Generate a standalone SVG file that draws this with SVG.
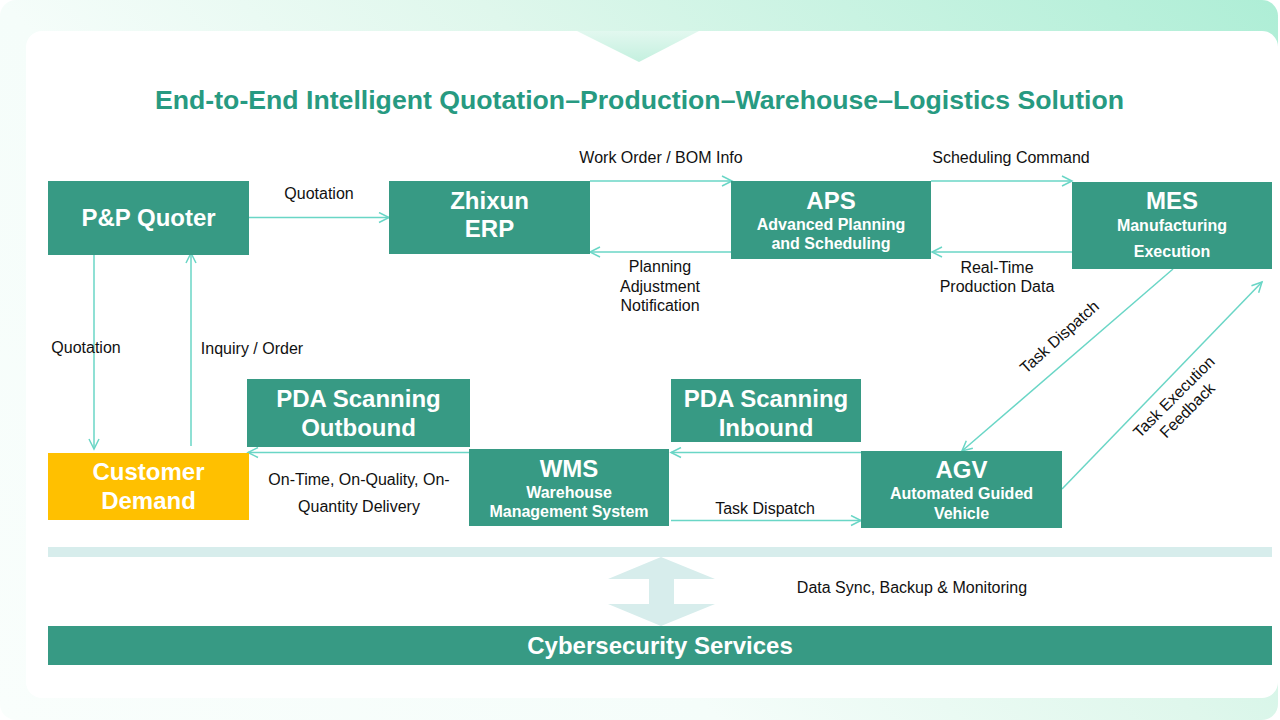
<svg xmlns="http://www.w3.org/2000/svg" width="1280" height="720" viewBox="0 0 1280 720">
<style>
text{font-family:"Liberation Sans",Arial,sans-serif}
.n{fill:#379a84}
.t{fill:#fff;font-weight:700;text-anchor:middle}
.b{font-size:24px}.s{font-size:16px}
.l{fill:#111;font-size:16px;text-anchor:middle}
.c{fill:none;stroke:#6ad6c6;stroke-width:1.5;marker-end:url(#a)}
</style>
<defs>
<linearGradient id="g" gradientUnits="userSpaceOnUse" x1="0" y1="720" x2="999" y2="-279"><stop offset="0" stop-color="#f9fefc"/><stop offset=".36" stop-color="#f5fdfa"/><stop offset=".6" stop-color="#dff7ec"/><stop offset="1" stop-color="#aeeed6"/></linearGradient>
<linearGradient id="h" x1="0" y1="0" x2="0" y2="1"><stop offset="0" stop-color="#e2f8ef"/><stop offset="1" stop-color="#c4f0df"/></linearGradient>
<marker id="a" markerUnits="userSpaceOnUse" markerWidth="14" markerHeight="12" refX="11" refY="6" orient="auto"><path d="M1 1L11 6L1 11" fill="none" stroke="#6ad6c6" stroke-width="1.5"/></marker>
</defs>
<rect width="1278" height="720" rx="16" fill="url(#g)"/>
<rect x="26" y="31" width="1252" height="667" rx="16" fill="#fff"/>
<path d="M577 31H699L639 62Z" fill="url(#h)"/>
<text x="639.500" y="109" text-anchor="middle" font-size="26.670" font-weight="700" fill="#279a81">End-to-End Intelligent Quotation–Production–Warehouse–Logistics Solution</text>
<g id="connectors">
<path class="c" d="M249 217.500H389"/>
<path class="c" d="M590 181H732"/>
<path class="c" d="M731 252H590"/>
<path class="c" d="M931 181H1072"/>
<path class="c" d="M1072 252H932"/>
<path class="c" d="M94 255V449"/>
<path class="c" d="M191 446V253"/>
<path class="c" d="M1173 269L962 451"/>
<path class="c" d="M1062 489L1262 282"/>
<path class="c" d="M861 452.500H671"/>
<path class="c" d="M671 520.500H861"/>
<path class="c" d="M469 452.500H248"/>
</g>
<g id="quoter"><rect class="n" x="48" y="181" width="201" height="74"/><text class="t b" x="148.500" y="226">P&amp;P Quoter</text></g>
<g id="erp"><rect class="n" x="389" y="181" width="201" height="73"/><text class="t b" x="489.500" y="209">Zhixun</text><text class="t b" x="489.500" y="237">ERP</text></g>
<g id="aps"><rect class="n" x="731" y="181" width="200" height="78"/><text class="t b" x="831" y="209">APS</text><text class="t s" x="831" y="230">Advanced Planning</text><text class="t s" x="831" y="249">and Scheduling</text></g>
<g id="mes"><rect class="n" x="1072" y="182" width="200" height="87"/><text class="t b" x="1172" y="209">MES</text><text class="t s" x="1172" y="231">Manufacturing</text><text class="t s" x="1172" y="257">Execution</text></g>
<g id="pda-out"><rect class="n" x="247" y="379" width="223" height="68"/><text class="t b" x="358.500" y="407">PDA Scanning</text><text class="t b" x="358.500" y="436">Outbound</text></g>
<g id="pda-in"><rect class="n" x="671" y="379" width="190" height="63"/><text class="t b" x="766" y="407">PDA Scanning</text><text class="t b" x="766" y="436">Inbound</text></g>
<g id="customer"><rect x="48" y="453" width="201" height="67" fill="#ffc000"/><text class="t b" x="148.500" y="480">Customer</text><text class="t b" x="148.500" y="509">Demand</text></g>
<g id="wms"><rect class="n" x="469" y="449" width="200" height="77"/><text class="t b" x="569" y="477">WMS</text><text class="t s" x="569" y="498">Warehouse</text><text class="t s" x="569" y="517">Management System</text></g>
<g id="agv"><rect class="n" x="861" y="451" width="201" height="77"/><text class="t b" x="961.500" y="478">AGV</text><text class="t s" x="961.500" y="499">Automated Guided</text><text class="t s" x="961.500" y="519">Vehicle</text></g>
<rect x="48" y="547" width="1224" height="10" fill="#d7edec"/>
<path d="M661 557L715 579H674V604H715L661 626L608 604H649V579H608Z" fill="#d7edec"/>
<g id="cyber"><rect class="n" x="48" y="626" width="1224" height="39"/><text class="t" x="660" y="654" font-size="24">Cybersecurity Services</text></g>
<g id="labels">
<text class="l" x="319" y="199">Quotation</text>
<text class="l" x="661" y="163">Work Order / BOM Info</text>
<text class="l" x="1011" y="163">Scheduling Command</text>
<text class="l" x="660" y="272">Planning</text><text class="l" x="660" y="292">Adjustment</text><text class="l" x="660" y="311">Notification</text>
<text class="l" x="997" y="273">Real-Time</text><text class="l" x="997" y="292">Production Data</text>
<text class="l" x="86" y="353">Quotation</text>
<text class="l" x="252" y="354">Inquiry / Order</text>
<text class="l" x="359" y="485">On-Time, On-Quality, On-</text><text class="l" x="359" y="512">Quantity Delivery</text>
<text class="l" x="765" y="514">Task Dispatch</text>
<text class="l" x="912" y="593">Data Sync, Backup &amp; Monitoring</text>
<text class="l" transform="translate(1063 341) rotate(-42)">Task Dispatch</text>
<g transform="translate(1180.500 403.500) rotate(-45)"><text class="l" x="0" y="-4">Task Execution</text><text class="l" x="0" y="15">Feedback</text></g>
</g>
</svg>
